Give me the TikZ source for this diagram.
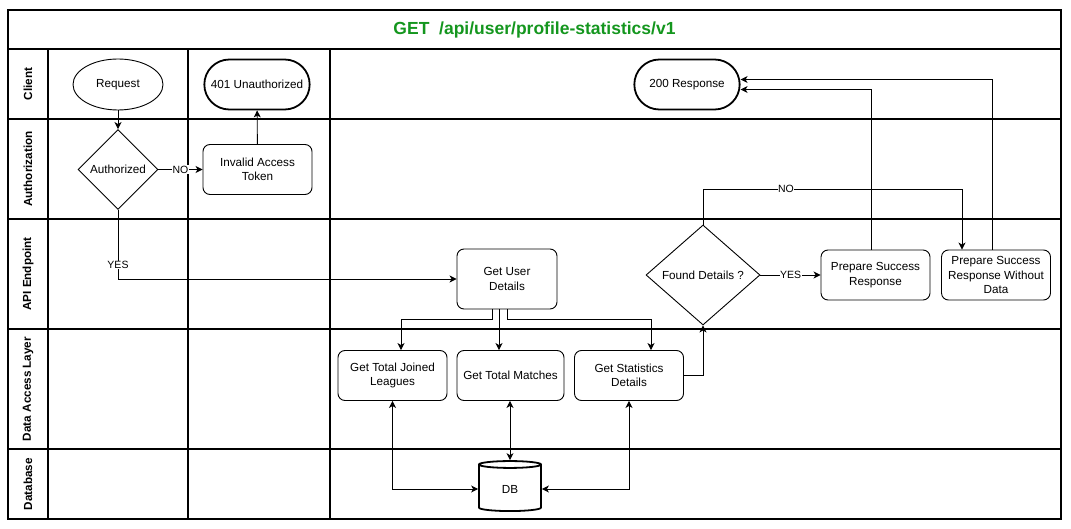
\documentclass[tikz,border=0pt]{standalone}
\usepackage{fontspec}
\setmainfont{Liberation Sans}
\usepackage{xcolor}
\usepackage{tikz}
\usetikzlibrary{arrows.meta}
\usetikzlibrary{shapes}
\usetikzlibrary{calc}
\tikzset{>=latex}

\definecolor{titlegreen}{RGB}{20,150,30}

\begin{document}
\begin{tikzpicture}[
        x=1pt, y=-1pt,
        lane/.style={line width=1.2pt},
        lanelabel/.style={rotate=90, font=\fontsize{11.7}{13}\selectfont\bfseries},
        txt/.style={font=\fontsize{11.7}{14.3}\selectfont},
        box/.style={draw, txt, rounded corners=7pt, line width=0.9pt, align=center,
            minimum width=109pt, minimum height=50pt, inner sep=1pt},
        terminal/.style={draw, txt, rounded rectangle, line width=1.8pt,
            minimum width=112pt, minimum height=50pt},
        start/.style={draw, txt, ellipse, line width=0.9pt,
            minimum width=90pt, minimum height=51pt},
        decision/.style={draw, txt, diamond, line width=0.9pt, inner sep=0pt},
        store/.style={draw, txt, cylinder, shape border rotate=90, aspect=0.3,
            line width=1.8pt, minimum width=62pt, minimum height=50pt},
        flow/.style={draw, line width=0.9pt, -{Stealth[length=7pt, width=7pt, inset=2pt]}},
        twoway/.style={draw, line width=0.9pt,
            {Stealth[length=7pt, width=7pt, inset=2pt]}-{Stealth[length=7pt, width=7pt, inset=2pt]}},
        lbl/.style={fill=white, inner sep=0.5pt, font=\fontsize{10.5}{12}\selectfont}
    ]

    \useasboundingbox (0,0) rectangle (1071,529);

    %=== Swimlanes ===%
    \draw[lane] (8,10) rectangle (1061,519);
    \draw[lane] (8,49) -- (1061,49);
    \node[font=\fontsize{17.5}{20}\selectfont\bfseries, text=titlegreen] (title) at (534.5,30)
        {GET\ \ /api/user/profile-statistics/v1};

    \foreach \yt/\yb/\lname [count=\i] in {49/119/Client, 119/219/Authorization,
        219/329/API Endpoint, 329/449/Data Access Layer, 449/519/Database}{
        \draw[lane] (8,\yb) -- (1061,\yb);
        \node[lanelabel] (lane\i) at (28,{(\yt+\yb)/2}) {\lname};
    }
    \foreach \xc in {48,188,330}
        \draw[lane] (\xc,49) -- (\xc,519);

    %=== Nodes ===%
    \node[start] (request) at (118,84.5) {Request};
    \node[terminal] (unauth) at (257,84.5) {401 Unauthorized};
    \node[terminal] (resp) at (687,84.5) {200 Response};

    \node[decision, minimum width=80pt, minimum height=80pt] (authorized) at (118,169.5) {Authorized};
    \node[box] (invalid) at (257.5,169.5) {Invalid Access\\Token};

    \node[box, minimum width=100pt, minimum height=60pt] (user) at (507,279) {Get User\\Details};
    \node[decision, aspect=1.14, minimum width=114pt, minimum height=100pt] (found) at (703,275) {Found Details ?};
    \node[box] (prep) at (875.5,275) {Prepare Success\\Response};
    \node[box] (prepnodata) at (996,275) {Prepare Success\\Response Without\\Data};

    \node[box] (joined) at (392.5,375.5) {Get Total Joined\\Leagues};
    \node[box, minimum width=107pt] (matches) at (510.5,375.5) {Get Total Matches};
    \node[box] (stats) at (629,375.5) {Get Statistics\\Details};

    \node[store] (db) at (510,489) {DB};

    %=== Connectors ===%
    \draw[flow] (request) -- (authorized);
    \draw[flow] (authorized) -- node[lbl] {NO} (invalid);
    \draw[flow] (invalid) -- (unauth);
    \draw[flow] (authorized.south) |- node[lbl, pos=0.4] {YES} (user.west);

    \draw[flow] ([xshift=-15pt]user.south) -- ++(0,10) -| ([xshift=8.5pt]joined.north);
    \draw[flow] ([xshift=-8pt]user.south) -- ([xshift=-8pt]user.south |- matches.north);
    \draw[flow] (user.south) -- ++(0,10) -| ([xshift=22pt]stats.north);

    \draw[twoway] (joined.south) |- (db.west);
    \draw[twoway] (matches.south -| db.north) -- (db.north);
    \draw[twoway] (stats.south) |- (db.east);

    \draw[flow] (stats.east) -| (found.south);
    \draw[flow] (found) -- node[lbl] {YES} (prep);
    \coordinate (nobend) at (0,189);
    \draw[flow] (found.north) |- node[lbl, pos=0.66] {NO} ([xshift=-34pt]prepnodata.north |- nobend)
        -- ([xshift=-34pt]prepnodata.north);

    \draw[flow] ([xshift=-4.5pt]prep.north) |- ([yshift=-5pt]resp.east);
    \draw[flow] ([xshift=-4pt]prepnodata.north) |- ([yshift=5pt]resp.east);

\end{tikzpicture}
\end{document}
